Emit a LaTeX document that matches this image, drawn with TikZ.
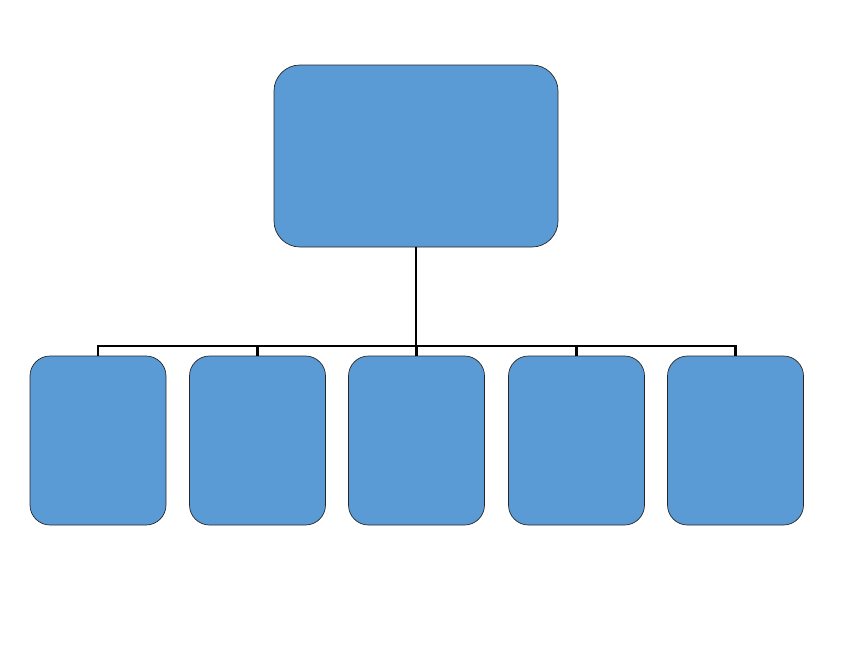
\documentclass[tikz,border=0pt]{standalone}
\definecolor{boxblue}{HTML}{5B9BD5}
\begin{document}
\begin{tikzpicture}[x=1pt,y=-1pt,
  box/.style={draw=black!85,line width=0.7pt,fill=boxblue,rounded corners=#1,inner sep=0pt,anchor=center},
  box/.default=20pt,
  link/.style={draw=black,line width=2.6pt}]
\useasboundingbox (0,0) rectangle (860,645);
\node[box=26pt,minimum width=284pt,minimum height=182pt] (top) at (416,156) {};
\node[box,minimum width=136pt,minimum height=169pt] (c1) at (98,440.5) {};
\node[box,minimum width=136pt,minimum height=169pt] (c2) at (257.5,440.5) {};
\node[box,minimum width=136pt,minimum height=169pt] (c3) at (416.5,440.5) {};
\node[box,minimum width=136pt,minimum height=169pt] (c4) at (576.5,440.5) {};
\node[box,minimum width=136pt,minimum height=169pt] (c5) at (735.5,440.5) {};
\coordinate (bus) at (416.5,346);
\draw[link] (top.south) -- (top.south |- bus);
\draw[link] (c1.north) -- (c1.north |- bus) -- (c5.north |- bus) -- (c5.north);
\draw[link] (c2.north) -- (c2.north |- bus);
\draw[link] (c3.north) -- (c3.north |- bus);
\draw[link] (c4.north) -- (c4.north |- bus);
\end{tikzpicture}
\end{document}
